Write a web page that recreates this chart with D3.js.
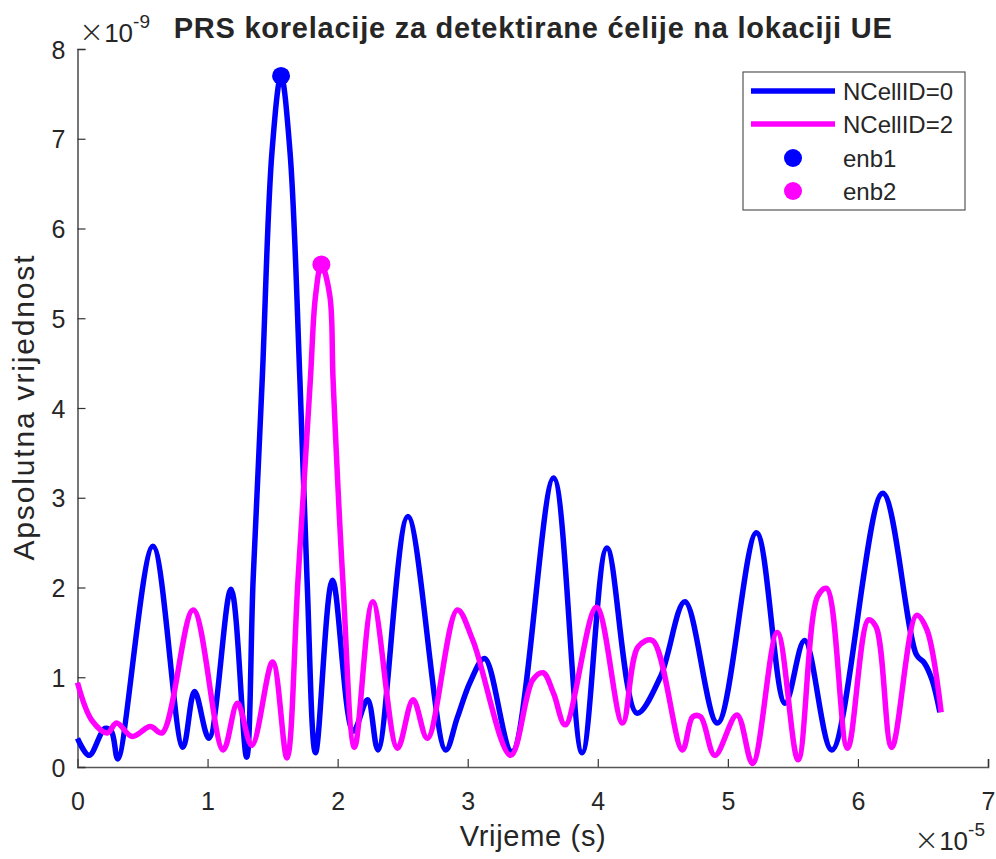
<!DOCTYPE html>
<html>
<head>
<meta charset="utf-8">
<script src="https://cdn.jsdelivr.net/npm/d3@7"></script>
<style>
  body { margin: 0; background: #fff; }
  text { font-family: "Liberation Sans", Arial, sans-serif; fill: #262626; }
</style>
</head>
<body>
<div id="chart"></div>
<script>
// values; x in 1e-5 s, y in 1e-9
var blueX = [0, 0.09, 0.21, 0.26, 0.31, 0.58, 0.81, 0.90, 1.01, 1.18, 1.30, 1.35, 1.42, 1.495, 1.565, 1.634, 1.71, 1.765, 1.83,
  1.96, 2.12, 2.23, 2.31, 2.54, 2.83, 2.92, 3.02, 3.13, 3.34, 3.66, 3.88, 4.07, 4.30, 4.48, 4.67, 4.92, 5.22, 5.44, 5.59,
  5.80, 6.19, 6.45, 6.51, 6.57, 6.63];
var blueY = [0.32, 0.13, 0.43, 0.40, 0.09, 2.46, 0.22, 0.84, 0.32, 1.98, 0.11, 2.08, 4.31, 6.85, 7.70, 6.85, 4.31, 2.08, 0.16,
  2.08, 0.40, 0.75, 0.19, 2.79, 0.19, 0.55, 0.95, 1.21, 0.17, 3.22, 0.16, 2.44, 0.60, 1.00, 1.84, 0.49, 2.61, 0.71, 1.41,
  0.19, 3.05, 1.25, 1.16, 0.97, 0.61];

var pinkX = [0, 0.11, 0.23, 0.30, 0.42, 0.56, 0.65, 0.89, 1.12, 1.23, 1.34, 1.50, 1.61, 1.695, 1.79, 1.83, 1.875, 1.94, 1.965,
  2.04, 2.13, 2.27, 2.46, 2.58, 2.69, 2.92, 3.04, 3.33, 3.50, 3.58, 3.66, 3.75, 3.99, 4.19, 4.31, 4.42, 4.65, 4.73, 4.79,
  4.90, 5.07, 5.19, 5.38, 5.54, 5.69, 5.76, 5.92, 6.08, 6.14, 6.26, 6.45, 6.53, 6.64];
var pinkY = [0.94, 0.52, 0.38, 0.49, 0.34, 0.45, 0.38, 1.75, 0.19, 0.71, 0.24, 1.17, 0.10, 2.08, 4.31, 5.25, 5.60, 5.25, 4.31,
  2.08, 0.22, 1.84, 0.21, 0.75, 0.32, 1.75, 1.41, 0.13, 0.97, 1.05, 0.82, 0.47, 1.78, 0.49, 1.34, 1.41, 0.19, 0.56, 0.56,
  0.13, 0.58, 0.04, 1.50, 0.08, 1.90, 1.99, 0.21, 1.64, 1.56, 0.22, 1.69, 1.53, 0.61];

var peakX = [1.565, 1.875];
var peakY = [7.70, 5.60];

var seriesNames = ["NCellID=0", "NCellID=2"];
var peakNames = ["enb1", "enb2"];
var xTicks = [0, 1, 2, 3, 4, 5, 6, 7];
var yTicks = [0, 1, 2, 3, 4, 5, 6, 7, 8];

var width = 996, height = 859;
var padL = 77.5, padR = 988, padT = 49, padB = 767;
var blue = "#0000ff", pink = "#ff00ff";

var svg = d3.select("#chart").append("svg")
    .attr("width", width)
    .attr("height", height);

var x = d3.scaleLinear().domain([0, 7]).range([padL, padR]);
var y = d3.scaleLinear().domain([0, 8]).range([padB, padT]);

// axes (box off, ticks inward)
var xAxis = svg.append("g")
    .attr("transform", "translate(0," + padB + ")")
    .call(d3.axisBottom(x).tickValues(xTicks).tickSize(-8).tickPadding(20).tickFormat(d3.format("d")));
var yAxis = svg.append("g")
    .attr("transform", "translate(" + padL + ",0)")
    .call(d3.axisLeft(y).tickValues(yTicks).tickSize(-8).tickPadding(12).tickFormat(d3.format("d")));

[xAxis, yAxis].forEach(function(g) {
  g.select(".domain").attr("stroke", "#555").attr("stroke-width", 1.6);
  g.selectAll(".tick line").attr("stroke", "#333").attr("stroke-width", 1.2);
  g.selectAll(".tick text").style("font-size", "25px").attr("fill", "#333")
    .style("font-family", "'Liberation Sans', Arial, sans-serif");
});
xAxis.selectAll(".tick text").attr("dy", "0.9em");
yAxis.selectAll(".tick text").attr("dy", "0.36em");

// exponent labels
var ex1 = svg.append("text").attr("x", 79).attr("y", 42).style("font-size", "26px").attr("fill", "#444");
ex1.append("tspan").style("font-size", "30px").style("font-family", "'DejaVu Sans', sans-serif")
    .style("font-weight", "200").text("\u00d7");
ex1.append("tspan").text("10");
ex1.append("tspan").attr("dy", -14).style("font-size", "19px").text("-9");

var ex2 = svg.append("text").attr("x", 914).attr("y", 850).style("font-size", "26px").attr("fill", "#444");
ex2.append("tspan").style("font-size", "30px").style("font-family", "'DejaVu Sans', sans-serif")
    .style("font-weight", "200").text("\u00d7");
ex2.append("tspan").text("10");
ex2.append("tspan").attr("dy", -14).style("font-size", "19px").text("-5");

// curves
var line = d3.line()
    .x(function(d) { return x(d[0]); })
    .y(function(d) { return y(d[1]); })
    .curve(d3.curveCatmullRom.alpha(0.5));

svg.append("path")
    .datum(d3.zip(blueX, blueY))
    .attr("d", line)
    .attr("fill", "none")
    .attr("stroke", blue)
    .attr("stroke-width", 5.5)
    .attr("stroke-linejoin", "round");

svg.append("path")
    .datum(d3.zip(pinkX, pinkY))
    .attr("d", line)
    .attr("fill", "none")
    .attr("stroke", pink)
    .attr("stroke-width", 5.5)
    .attr("stroke-linejoin", "round");

svg.selectAll(".peak")
    .data(d3.zip(peakX, peakY))
    .enter().append("circle")
    .attr("class", "peak")
    .attr("cx", function(d) { return x(d[0]); })
    .attr("cy", function(d) { return y(d[1]); })
    .attr("r", 9)
    .attr("fill", function(d, i) { return i == 0 ? blue : pink; });

// title and labels
svg.append("text")
    .attr("x", (padL + padR) / 2)
    .attr("y", 38)
    .attr("text-anchor", "middle")
    .style("font-size", "29px")
    .style("font-weight", "bold")
    .attr("fill", "#000")
    .attr("textLength", 718)
    .attr("lengthAdjust", "spacing")
    .text("PRS korelacije za detektirane \u0107elije na lokaciji UE");

svg.append("text")
    .attr("x", (padL + padR) / 2)
    .attr("y", 846)
    .attr("text-anchor", "middle")
    .style("font-size", "29px")
    .attr("textLength", 146)
    .attr("lengthAdjust", "spacing")
    .text("Vrijeme (s)");

svg.append("text")
    .attr("transform", "translate(34," + ((padT + padB) / 2) + ") rotate(-90)")
    .attr("text-anchor", "middle")
    .style("font-size", "30px")
    .attr("textLength", 305)
    .attr("lengthAdjust", "spacing")
    .text("Apsolutna vrijednost");

// legend
var lg = svg.append("g");
lg.append("rect")
    .attr("x", 743).attr("y", 72)
    .attr("width", 222).attr("height", 138)
    .attr("fill", "#fff")
    .attr("stroke", "#555")
    .attr("stroke-width", 1.2);

var rowY = [91, 124, 158, 191];
seriesNames.forEach(function(name, i) {
  lg.append("line")
      .attr("x1", 751).attr("x2", 835)
      .attr("y1", rowY[i]).attr("y2", rowY[i])
      .attr("stroke", i == 0 ? blue : pink)
      .attr("stroke-width", 5.5);
  lg.append("text")
      .attr("x", 843).attr("y", rowY[i] + 9)
      .style("font-size", "24px")
      .text(name);
});
peakNames.forEach(function(name, i) {
  lg.append("circle")
      .attr("cx", 793).attr("cy", rowY[i + 2])
      .attr("r", 9)
      .attr("fill", i == 0 ? blue : pink);
  lg.append("text")
      .attr("x", 843).attr("y", rowY[i + 2] + 9)
      .style("font-size", "24px")
      .text(name);
});
</script>
</body>
</html>
